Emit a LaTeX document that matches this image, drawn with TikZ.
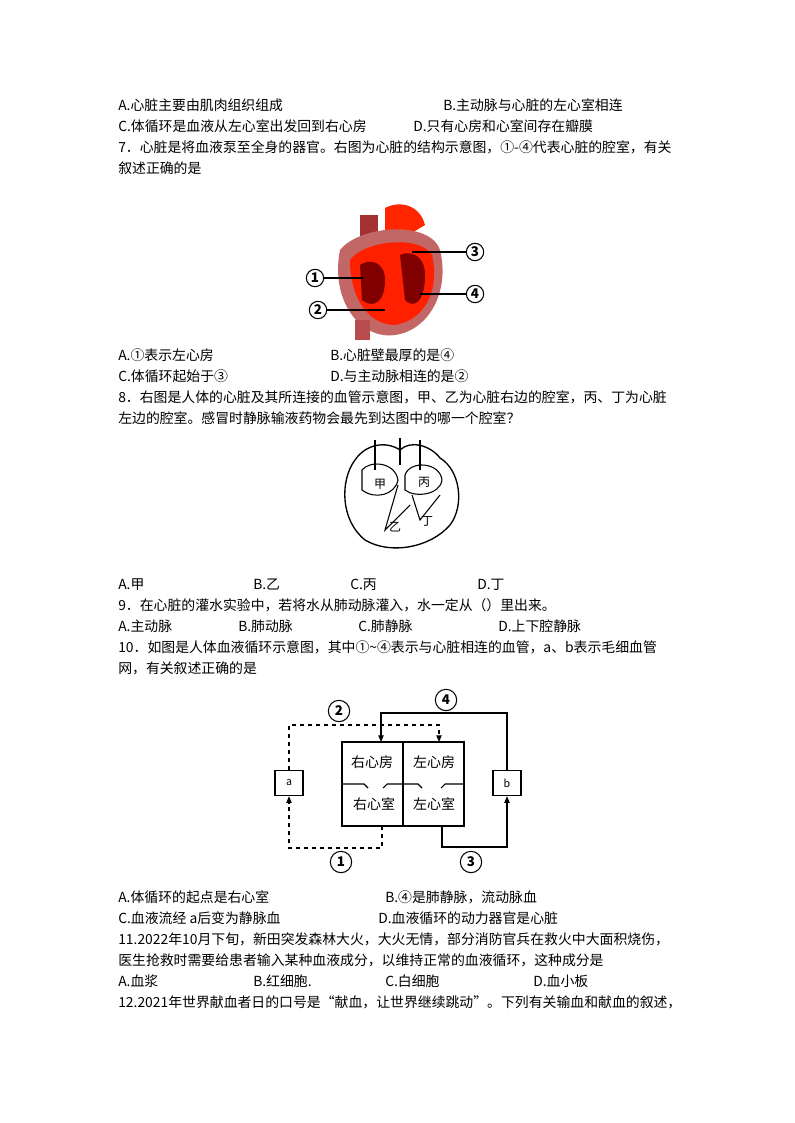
\documentclass[tikz,border=0pt]{standalone}
\usepackage{fontspec}
\setmainfont{Noto Sans CJK SC}
\usetikzlibrary{arrows.meta}
\begin{document}
\begin{tikzpicture}[x=0.75pt,y=-0.75pt,
 t/.style={anchor=base west,inner sep=0pt,font=\fontsize{10.4}{12}\selectfont},
 circ/.style={circle,draw,line width=0.8pt,minimum size=16pt,inner sep=0pt,font=\fontsize{10}{12}\selectfont\bfseries},
 cbox/.style={draw,line width=0.8pt,minimum width=21pt,minimum height=19pt,inner sep=0pt,font=\fontsize{8}{10}\selectfont},
 sl/.style={line width=0.8pt},
 ds/.style={line width=0.8pt,dashed},
 arr/.style={-{Triangle[length=5pt,width=4pt]}}]
\useasboundingbox (0,0) rectangle (794,1123);
\fill[white] (0,0) rectangle (794,1123);
\node[t] (l1a) at (118,111) {A.心脏主要由肌肉组织组成};
\node[t] (l1b) at (443,111) {B.主动脉与心脏的左心室相连};
\node[t] (l2a) at (118,132) {C.体循环是血液从左心室出发回到右心房};
\node[t] (l2b) at (413,132) {D.只有心房和心室间存在瓣膜};
\node[t] (l3) at (118,153) {7．心脏是将血液泵至全身的器官。右图为心脏的结构示意图，①-④代表心脏的腔室，有关};
\node[t] (l4) at (118,174) {叙述正确的是};
% heart image 1
\fill[red!55!black!80] (360,215) rectangle (378,300);
\fill[red!70!orange] (385,208) .. controls (400,200) and (420,205) .. (425,225) -- (400,240) -- (385,235) -- cycle;
\fill[red!60!black!60] (340,250) .. controls (330,300) and (360,340) .. (395,335) .. controls (430,330) and (450,290) .. (440,250) .. controls (430,220) and (360,225) .. (340,250) -- cycle;
\fill[red!75!orange] (350,260) .. controls (350,300) and (370,325) .. (395,325) .. controls (425,320) and (440,290) .. (432,255) .. controls (420,235) and (365,240) .. (350,260) -- cycle;
\fill[red!50!black] (400,255) .. controls (410,250) and (425,255) .. (425,275) .. controls (425,300) and (415,310) .. (405,300) -- cycle;
\fill[red!50!black] (360,265) .. controls (370,258) and (385,262) .. (385,280) .. controls (385,300) and (375,310) .. (362,300) -- cycle;
\fill[red!60!black!70] (355,320) rectangle (370,340);
\node[circ,minimum size=13pt] (h1) at (315,278) {1};
\node[circ,minimum size=13pt] (h2) at (318,310) {2};
\node[circ,minimum size=13pt] (h3) at (475,252) {3};
\node[circ,minimum size=13pt] (h4) at (475,294) {4};
\draw[sl] (h1) -- (363,278); \draw[sl] (h2) -- (385,310);
\draw[sl] (h3) -- (412,252); \draw[sl] (h4) -- (420,294);
\node[t] (l5a) at (118,360) {A.①表示左心房};
\node[t] (l5b) at (330,360) {B.心脏壁最厚的是④};
\node[t] (l6a) at (118,381) {C.体循环起始于③};
\node[t] (l6b) at (330,381) {D.与主动脉相连的是②};
\node[t] (l7) at (118,402) {8．右图是人体的心脏及其所连接的血管示意图，甲、乙为心脏右边的腔室，丙、丁为心脏};
\node[t] (l8) at (118,423) {左边的腔室。感冒时静脉输液药物会最先到达图中的哪一个腔室？};
% heart sketch 2
\draw[sl,line width=1pt] (355,460) .. controls (340,480) and (340,520) .. (365,540) .. controls (390,555) and (430,548) .. (450,525) .. controls (465,505) and (460,470) .. (440,458) .. controls (430,445) and (410,440) .. (400,450) .. controls (385,440) and (365,445) .. (355,460) -- cycle;
\draw[sl] (375,440) -- (375,470); \draw[sl] (400,438) -- (400,465); \draw[sl] (420,440) -- (420,470);
\draw[sl] (362,470) .. controls (370,460) and (395,462) .. (398,480) .. controls (395,495) and (375,500) .. (362,490) -- cycle;
\draw[sl] (405,475) .. controls (410,460) and (440,462) .. (442,480) .. controls (440,495) and (415,498) .. (405,490) -- cycle;
\draw[sl] (398,485) -- (385,530) -- (410,505);
\draw[sl] (412,495) -- (420,520) -- (440,495);
\node[font=\fontsize{9}{10}\selectfont] (jia) at (380,484) {甲};
\node[font=\fontsize{9}{10}\selectfont] (bing) at (424,482) {丙};
\node[font=\fontsize{9}{10}\selectfont] (yi) at (395,527) {乙};
\node[font=\fontsize{9}{10}\selectfont] (ding) at (427,521) {丁};
\node[t] (l9a) at (118,589) {A.甲};
\node[t] (l9b) at (253,589) {B.乙};
\node[t] (l9c) at (350,589) {C.丙};
\node[t] (l9d) at (477,589) {D.丁};
\node[t] (l10) at (118,610) {9．在心脏的灌水实验中，若将水从肺动脉灌入，水一定从（）里出来。};
\node[t] (l11a) at (118,631) {A.主动脉};
\node[t] (l11b) at (238,631) {B.肺动脉};
\node[t] (l11c) at (358,631) {C.肺静脉};
\node[t] (l11d) at (498,631) {D.上下腔静脉};
\node[t] (l12) at (118,652) {10．如图是人体血液循环示意图，其中①\textasciitilde④表示与心脏相连的血管，a、b表示毛细血管};
\node[t] (l13) at (118,673) {网，有关叙述正确的是};
% circulation diagram
\draw[sl] (342,742) rectangle (464,826);
\draw[sl] (403,742) -- (403,826);
\draw[sl] (342,784) -- (364,784) -- (368,788);
\draw[sl] (383,788) -- (387,784) -- (418,784) -- (422,788);
\draw[sl] (441,788) -- (445,784) -- (464,784);
\node[font=\fontsize{10.5}{12}\selectfont] (ra) at (372,762) {右心房};
\node[font=\fontsize{10.5}{12}\selectfont] (la) at (434,762) {左心房};
\node[font=\fontsize{10.5}{12}\selectfont] (rv) at (374,804) {右心室};
\node[font=\fontsize{10.5}{12}\selectfont] (lv) at (434,804) {左心室};
\node[cbox] (a) at (289,783) {a};
\node[cbox] (b) at (507,783) {b};
\coordinate (p2) at (439,742);
\coordinate (p4) at (381,742);
\coordinate (p1) at (382,826);
\coordinate (p3) at (442,826);
\draw[ds,arr] (a.north) |- (439,725) -- (p2);
\draw[sl,arr] (b.north) |- (381,713) -- (p4);
\draw[ds,arr] (p1) |- (289,848) -- (a.south);
\draw[sl,arr] (p3) |- (507,847) -- (b.south);
\node[circ] (c2) at (339,711) {2};
\node[circ] (c4) at (446,700) {4};
\node[circ] (c1) at (341,862) {1};
\node[circ] (c3) at (471,862) {3};
\node[t] (l14a) at (118,902) {A.体循环的起点是右心室};
\node[t] (l14b) at (385,902) {B.④是肺静脉，流动脉血};
\node[t] (l15a) at (118,923) {C.血液流经 a后变为静脉血};
\node[t] (l15b) at (378,923) {D.血液循环的动力器官是心脏};
\node[t] (l16) at (118,944) {11.2022年10月下旬，新田突发森林大火，大火无情，部分消防官兵在救火中大面积烧伤，};
\node[t] (l17) at (118,965) {医生抢救时需要给患者输入某种血液成分，以维持正常的血液循环，这种成分是};
\node[t] (l18a) at (118,986) {A.血浆};
\node[t] (l18b) at (253,986) {B.红细胞.};
\node[t] (l18c) at (385,986) {C.白细胞};
\node[t] (l18d) at (533,986) {D.血小板};
\node[t] (l19) at (118,1007) {12.2021年世界献血者日的口号是“献血，让世界继续跳动”。下列有关输血和献血的叙述，};
\end{tikzpicture}
\end{document}
